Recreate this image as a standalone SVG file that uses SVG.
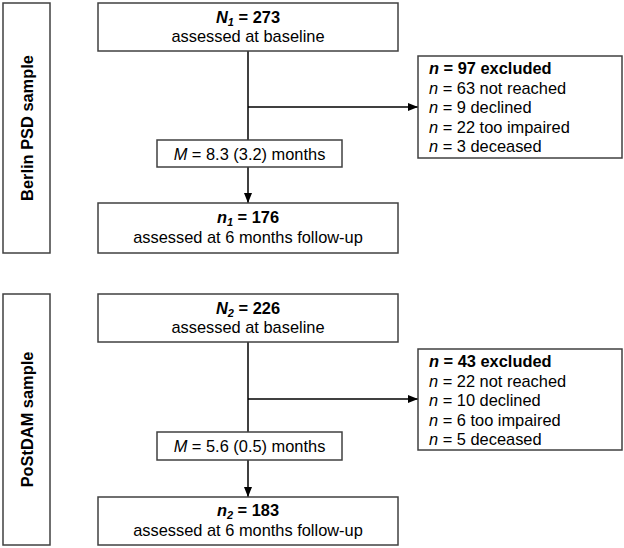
<svg xmlns="http://www.w3.org/2000/svg" width="624" height="548" viewBox="0 0 624 548">
<style>
.box{fill:#fff;stroke:#404040;stroke-width:1.5}
.t{font-family:"Liberation Sans",Arial,sans-serif;font-size:16.4px;fill:#000}
.c{text-anchor:middle}
.b{font-weight:bold}
.i{font-style:italic}
.ln{stroke:#000;stroke-width:1.5;fill:none}
</style>
<defs>
<marker id="ah" viewBox="0 0 10 10" refX="10" refY="5" markerWidth="10" markerHeight="10" markerUnits="userSpaceOnUse" orient="auto">
<path d="M0,1 L10,5 L0,9 Z" fill="#000"/>
</marker>
</defs>
<rect width="624" height="548" fill="#fff"/>
<g id="connectors">
<path class="ln" d="M248,51 V140"/>
<path class="ln" d="M248,167 V203" marker-end="url(#ah)"/>
<path class="ln" d="M248,107 H418" marker-end="url(#ah)"/>
<path class="ln" d="M248,342 V432"/>
<path class="ln" d="M248,460 V497" marker-end="url(#ah)"/>
<path class="ln" d="M248,399 H418" marker-end="url(#ah)"/>
</g>
<g id="label-berlin">
<rect class="box" x="3" y="3" width="47" height="250"/>
<text class="t b c" transform="translate(32.5,128) rotate(-90)">Berlin PSD sample</text>
</g>
<g id="n1-baseline">
<rect class="box" x="98" y="3" width="300" height="48"/>
<text class="t b c" x="248" y="23"><tspan class="i">N</tspan><tspan class="i" font-size="11" dy="3">1</tspan><tspan dy="-3"> = 273</tspan></text>
<text class="t c" x="248" y="42">assessed at baseline</text>
</g>
<g id="excluded-1">
<rect class="box" x="418" y="56" width="204" height="102"/>
<text class="t b" x="429" y="74"><tspan class="i">n</tspan> = 97 excluded</text>
<text class="t" x="429" y="93.5"><tspan class="i">n</tspan> = 63 not reached</text>
<text class="t" x="429" y="113"><tspan class="i">n</tspan> = 9 declined</text>
<text class="t" x="429" y="132.5"><tspan class="i">n</tspan> = 22 too impaired</text>
<text class="t" x="429" y="152"><tspan class="i">n</tspan> = 3 deceased</text>
</g>
<g id="m-1">
<rect class="box" x="157" y="140" width="185" height="27"/>
<text class="t c" x="249.5" y="159.5"><tspan class="i">M</tspan> = 8.3 (3.2) months</text>
</g>
<g id="n1-followup">
<rect class="box" x="98" y="203" width="300" height="50"/>
<text class="t b c" x="248" y="223"><tspan class="i">n</tspan><tspan class="i" font-size="11" dy="3">1</tspan><tspan dy="-3"> = 176</tspan></text>
<text class="t c" x="248" y="243">assessed at 6 months follow-up</text>
</g>
<g id="label-postdam">
<rect class="box" x="3" y="294" width="47" height="251"/>
<text class="t b c" transform="translate(32.5,419.5) rotate(-90)">PoStDAM sample</text>
</g>
<g id="n2-baseline">
<rect class="box" x="98" y="294" width="300" height="48"/>
<text class="t b c" x="248" y="314"><tspan class="i">N</tspan><tspan class="i" font-size="11" dy="3">2</tspan><tspan dy="-3"> = 226</tspan></text>
<text class="t c" x="248" y="333">assessed at baseline</text>
</g>
<g id="excluded-2">
<rect class="box" x="418" y="349" width="204" height="101"/>
<text class="t b" x="429" y="367"><tspan class="i">n</tspan> = 43 excluded</text>
<text class="t" x="429" y="386.5"><tspan class="i">n</tspan> = 22 not reached</text>
<text class="t" x="429" y="406"><tspan class="i">n</tspan> = 10 declined</text>
<text class="t" x="429" y="425.5"><tspan class="i">n</tspan> = 6 too impaired</text>
<text class="t" x="429" y="445"><tspan class="i">n</tspan> = 5 deceased</text>
</g>
<g id="m-2">
<rect class="box" x="157" y="432" width="185" height="28"/>
<text class="t c" x="249.5" y="452"><tspan class="i">M</tspan> = 5.6 (0.5) months</text>
</g>
<g id="n2-followup">
<rect class="box" x="98" y="497" width="300" height="48"/>
<text class="t b c" x="248" y="516"><tspan class="i">n</tspan><tspan class="i" font-size="11" dy="3">2</tspan><tspan dy="-3"> = 183</tspan></text>
<text class="t c" x="248" y="536">assessed at 6 months follow-up</text>
</g>
</svg>
